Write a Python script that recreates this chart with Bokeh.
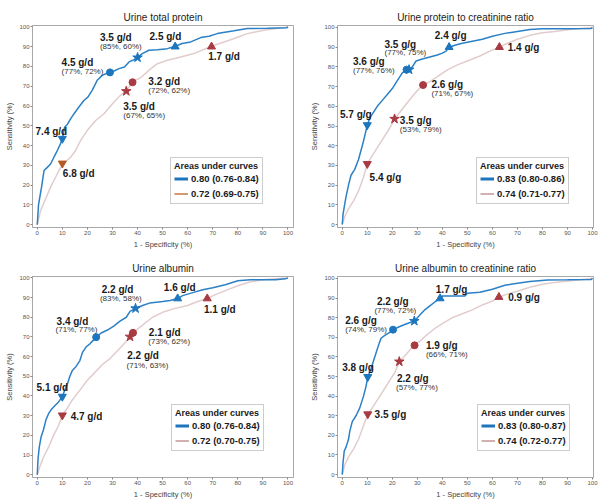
import numpy as np
from bokeh.plotting import figure
from bokeh.layouts import column, row
from bokeh.models import Label, Legend, LegendItem, Range1d, FixedTicker
from bokeh.embed import file_html
from bokeh.resources import INLINE

FONT = "Liberation Sans"
BLUE = "#1c75bd"
BLUE_LINE = "#2b80c6"
RED_MARK = "#a83a42"
RED_LINE = "#e2cccc"
ORANGE = "#b45a22"

TICKS = list(range(0, 101, 10))

# ---------------- Panel 1: Urine total protein ----------------
p1_title = "Urine total protein"
p1_blue_fpr = [0, 0.5, 1.7, 2.7, 4, 5.3, 6.6, 8, 9.3, 10, 10.9, 12, 13.3, 14.6, 16.6, 18.6, 20.2, 21.9, 23.9, 25.9, 28.9, 30.6, 32.6, 34.8, 36.6, 38.6, 40.2, 41.9, 44.5, 47.9, 51.9, 55.1, 57.8, 61.2, 65.2, 68.5, 71.8, 78.5, 83.8, 91.8, 99.5, 100]
p1_blue_tpr = [0, 10, 19, 27.4, 29, 30.7, 34, 37.5, 41, 43.4, 49.3, 50.7, 53.5, 56, 59.5, 62.8, 64.5, 67.9, 73, 75.5, 77.2, 77.7, 78.9, 79.7, 82.3, 83.4, 84.8, 86.5, 88.2, 88.5, 89, 90.2, 91.6, 92.4, 94.6, 95.3, 96.6, 98, 99.2, 99.3, 99.5, 100]
p1_red_fpr = [0, 1.3, 3.3, 5.3, 7.3, 9, 10.6, 13.3, 15.3, 17.3, 19.9, 23.3, 26.6, 30.6, 33.2, 35.4, 38.2, 41.2, 44.5, 47.9, 51.9, 57.2, 62.5, 69.4, 74.5, 78.5, 83.8, 90.4, 100]
p1_red_tpr = [0, 7, 13, 19, 24, 28.2, 31.1, 34.1, 37.5, 42.6, 47.6, 52.7, 56.1, 62, 65.4, 67.6, 72.3, 74.3, 78, 81.4, 83.1, 84.8, 86.5, 90.2, 92.4, 94.1, 96.6, 98.3, 100]
p1_blue_cut_fpr = [10, 29, 40, 55]
p1_blue_cut_tpr = [43.5, 77, 84.5, 90]
p1_blue_cut_names = ["7.4 g/d", "4.5 g/d", "3.5 g/d", "2.5 g/d"]
p1_blue_cut_stats = ["", "(77%, 72%)", "(85%, 60%)", ""]
p1_red_cut_fpr = [10, 38, 35.5, 69.5]
p1_red_cut_tpr = [31, 72, 67.5, 90]
p1_red_cut_names = ["6.8 g/d", "3.2 g/d", "3.5 g/d", "1.7 g/d"]
p1_red_cut_stats = ["", "(72%, 62%)", "(67%, 65%)", ""]
p1_auc = ["0.80 (0.76-0.84)", "0.72 (0.69-0.75)"]

# ---------------- Panel 2: Urine protein to creatinine ratio ----------------
p2_title = "Urine protein to creatinine ratio"
p2_blue_fpr = [0, 0.3, 0.8, 1.5, 2.5, 3.5, 5, 6.5, 8, 9, 10, 11, 12.5, 14, 16, 18, 20, 22, 24, 25.7, 26.7, 28, 29.5, 32, 35, 38, 40, 41.5, 42.7, 45, 48, 52, 56, 60, 65, 70, 75, 80, 90, 99.5, 100]
p2_blue_tpr = [0, 5, 9, 14, 20, 25, 28, 33, 40, 45, 50.5, 54, 57, 60, 63, 66, 69, 73, 77, 78.6, 78.6, 80, 83, 84, 85, 86, 87, 88, 90, 91, 92, 93, 94, 95.5, 97, 98, 99, 99.3, 99.4, 99.5, 100]
p2_red_fpr = [0, 1, 2.5, 4.5, 6.5, 8.5, 10, 12, 14, 16.5, 19, 20.9, 23, 25.5, 28, 30, 32.3, 35, 38, 42, 46, 50, 55, 59, 62.8, 66, 70, 75, 80, 85, 90, 95, 100]
p2_red_tpr = [0, 4, 8, 12, 17, 24, 30.8, 35, 39, 44, 49, 53.6, 57, 61, 65, 68, 70.8, 72.5, 75, 78.5, 81, 83, 85.5, 88, 90, 92, 94, 96, 97.3, 98, 98.8, 99.5, 100]
p2_blue_cut_fpr = [10, 25.7, 26.7, 42.7]
p2_blue_cut_tpr = [50.5, 78.6, 78.6, 90]
p2_blue_cut_names = ["5.7 g/g", "3.6 g/g", "3.5 g/g", "2.4 g/g"]
p2_blue_cut_stats = ["", "(77%, 76%)", "(77%, 75%)", ""]
p2_red_cut_fpr = [10, 32.3, 20.9, 62.8]
p2_red_cut_tpr = [30.8, 70.8, 53.6, 90]
p2_red_cut_names = ["5.4 g/g", "2.6 g/g", "3.5 g/g", "1.4 g/g"]
p2_red_cut_stats = ["", "(71%, 67%)", "(53%, 79%)", ""]
p2_auc = ["0.83 (0.80-0.86)", "0.74 (0.71-0.77)"]

# ---------------- Panel 3: Urine albumin ----------------
p3_title = "Urine albumin"
p3_blue_fpr = [0, 0.3, 0.8, 1.5, 2.5, 3.5, 4.5, 5.5, 7, 8.5, 10, 11, 12, 13, 14, 15.5, 17, 18, 19.5, 21, 22.5, 23.5, 25.5, 28, 30.5, 33, 35.5, 37, 39.2, 42, 45, 50, 53, 56, 58, 62, 66, 70, 75, 80, 85, 95, 99, 100]
p3_blue_tpr = [0, 8, 14, 19, 23, 28, 31, 33, 35, 37, 39.7, 43, 46, 50, 53, 55, 58, 62, 65, 66.5, 68.5, 69.9, 72, 73.5, 75.5, 78, 80, 83, 84.5, 86, 87.3, 88, 88.5, 89.5, 91, 92.5, 94, 95, 96.5, 98.5, 99, 99, 99.5, 100]
p3_red_fpr = [0, 1, 2.5, 4.5, 6.5, 8.5, 10, 12, 14, 17, 20, 23, 26, 29, 32, 35, 37, 38.2, 40, 43, 46, 50, 55, 60, 64, 67.8, 71, 75, 80, 85, 90, 95, 100]
p3_red_tpr = [0, 4, 9, 14, 20, 25, 30.2, 34, 38, 43, 48, 52, 56, 59, 63, 67, 70.1, 72.1, 74, 77, 80, 82.5, 84.5, 86, 88, 89.5, 91.5, 93.5, 96, 98, 99, 99.5, 100]
p3_blue_cut_fpr = [10, 23.5, 39.2, 56]
p3_blue_cut_tpr = [39.7, 69.9, 84.5, 89.5]
p3_blue_cut_names = ["5.1 g/d", "3.4 g/d", "2.2 g/d", "1.6 g/d"]
p3_blue_cut_stats = ["", "(71%, 77%)", "(83%, 58%)", ""]
p3_red_cut_fpr = [10, 38.2, 37, 67.8]
p3_red_cut_tpr = [30.2, 72.1, 70.1, 89.5]
p3_red_cut_names = ["4.7 g/d", "2.1 g/d", "2.2 g/d", "1.1 g/d"]
p3_red_cut_stats = ["", "(73%, 62%)", "(71%, 63%)", ""]
p3_auc = ["0.80 (0.76-0.84)", "0.72 (0.70-0.75)"]

# ---------------- Panel 4: Urine albumin to creatinine ratio ----------------
p4_title = "Urine albumin to creatinine ratio"
p4_blue_fpr = [0, 0.3, 0.8, 1.5, 2.5, 3, 4, 5.5, 7, 8.5, 9.5, 10.2, 11.5, 12.5, 13.5, 14.5, 15.5, 17, 19, 20.3, 23, 26, 28.8, 30, 31.5, 33, 35, 37, 39.1, 40, 45, 49, 50, 55, 60, 65, 70, 75, 82, 90, 99.5, 100]
p4_blue_tpr = [0, 6, 12, 14, 18, 22, 27, 30, 34, 40, 45, 49.8, 54, 58, 62, 66, 69.5, 71, 72.5, 73.9, 75.5, 77, 78.3, 80, 82, 84, 86, 88, 89.8, 91, 91, 91, 92.5, 93, 94.5, 96.5, 97.5, 98.5, 99.2, 99.3, 99.5, 100]
p4_red_fpr = [0, 1, 2.5, 4.5, 6.5, 8.5, 10.2, 12, 14, 16.5, 19, 21, 22.8, 25, 27, 28.9, 31, 34, 37, 40, 44, 48, 52, 56, 60, 62.6, 66, 70, 75, 80, 85, 92, 100]
p4_red_tpr = [0, 5, 9, 13, 18, 25, 30.8, 34, 38, 43, 48, 52, 57.6, 60.5, 63.5, 65.9, 68, 71.5, 74.5, 77, 80, 82, 84, 86.5, 88.5, 90.5, 92, 93.5, 95.5, 97, 98, 99, 100]
p4_blue_cut_fpr = [10.2, 20.3, 28.8, 39.1]
p4_blue_cut_tpr = [49.8, 73.9, 78.3, 89.8]
p4_blue_cut_names = ["3.8 g/g", "2.6 g/g", "2.2 g/g", "1.7 g/g"]
p4_blue_cut_stats = ["", "(74%, 79%)", "(77%, 72%)", ""]
p4_red_cut_fpr = [10.2, 28.9, 22.8, 62.6]
p4_red_cut_tpr = [30.8, 65.9, 57.6, 90.5]
p4_red_cut_names = ["3.5 g/g", "1.9 g/g", "2.2 g/g", "0.9 g/g"]
p4_red_cut_stats = ["", "(66%, 71%)", "(57%, 77%)", ""]
p4_auc = ["0.83 (0.80-0.87)", "0.74 (0.72-0.77)"]

LEGEND_TITLE = "Areas under curves"
X_LABEL = "1 - Specificity (%)"
Y_LABEL = "Sensitivity (%)"

# marker order of the cut points: inverted triangle, circle, star, triangle
MARKERS = ["inverted_triangle", "circle", "star", "triangle"]
MSIZES = [8, 7, 10, 8]

# label pixel offsets from their cut-point markers: (dx, dy, dx_sub, dy_sub)
OFF = {
    1: {"b": [(-26.8, 7.5, 0, 0), (-48.4, 10.0, -48.4, 0.4), (-37.6, 20.5, -37.6, 10.6), (-25.6, 9.7, 0, 0)],
        "r": [(0.5, -10.4, 0, 0), (15.8, 1.0, 15.8, -8.1), (-3.0, -15.2, -3.0, -24.4), (-3.3, -9.7, 0, 0)]},
    2: {"b": [(-27.3, 10.4, 0, 0), (-53.6, 8.5, -53.6, -0.6), (-24.6, 25.2, -24.6, 16.7), (-14.3, 12.0, 0, 0)],
        "r": [(2.3, -14.0, 0, 0), (8.3, 0.4, 8.3, -8.9), (5.3, -1.4, 5.3, -10.8), (8.3, -0.4, 0, 0)]},
    3: {"b": [(-25.8, 9.1, 0, 0), (-39.6, 15.4, -40.6, 7.3), (-33.8, 18.9, -35.6, 9.7), (-13.8, 10.6, 0, 0)],
        "r": [(8.3, -1.2, 0, 0), (15.8, 0.0, 15.3, -8.9), (-2.8, -18.9, -3.5, -28.6), (-3.3, -10.8, 0, 0)]},
    4: {"b": [(-25.6, 9.5, 0, 0), (-47.9, 8.7, -47.9, 0.0), (-37.4, 19.3, -39.9, 10.6), (-4.3, 9.1, 0, 0)],
        "r": [(6.8, -0.6, 0, 0), (11.3, -0.2, 11.3, -8.9), (-2.3, -16.5, -3.3, -25.4), (9.3, 0.0, 0, 0)]},
}


def make_panel(idx, title, bf, bt, rf, rt, bcf, bct, bcn, bcs, rcf, rct, rcn, rcs, auc,
               width, height, mleft, mright, mtop, mbottom, xr, yr, legend_loc,
               red_legend_color, first_red_color):
    p = figure(width=width, height=height, x_range=Range1d(*xr), y_range=Range1d(*yr),
               output_backend="svg", toolbar_location=None,
               min_border_left=mleft, min_border_right=mright,
               min_border_top=mtop, min_border_bottom=mbottom)
    p.title.text = title
    p.title.align = "center"
    p.title.text_font = FONT
    p.title.text_font_size = "10px"
    p.title.text_font_style = "normal"
    p.title.text_color = "#222222"
    p.title.standoff = 5
    p.grid.visible = False
    p.outline_line_color = "#a8a8a8"
    p.outline_line_width = 1
    p.background_fill_color = "white"
    p.border_fill_color = "white"

    for ax, lab in ((p.xaxis[0], X_LABEL), (p.yaxis[0], Y_LABEL)):
        ax.ticker = FixedTicker(ticks=TICKS)
        ax.axis_label = lab
        ax.axis_label_text_font = FONT
        ax.axis_label_text_font_size = "7.5px"
        ax.axis_label_text_font_style = "normal"
        ax.axis_label_text_color = "#444444"
        ax.axis_label_standoff = 2
        ax.major_label_text_font = FONT
        ax.major_label_text_font_size = "6px"
        ax.major_label_text_color = "#555555"
        ax.major_label_standoff = 1
        ax.major_tick_out = 2
        ax.major_tick_in = 0
        ax.minor_tick_out = 0
        ax.minor_tick_in = 0
        ax.axis_line_color = "#a8a8a8"
        ax.major_tick_line_color = "#888888"

    p.line(rf, rt, line_color=RED_LINE, line_width=1.5)
    p.line(bf, bt, line_color=BLUE_LINE, line_width=1.5)

    # cut points
    for j, m in enumerate(MARKERS):
        rc = first_red_color if j == 0 else RED_MARK
        p.scatter([rcf[j]], [rct[j]], marker=m, size=MSIZES[j], color=rc)
        p.scatter([bcf[j]], [bct[j]], marker=m, size=MSIZES[j], color=BLUE)

    for series, xs, ys, names, stats in (("b", bcf, bct, bcn, bcs), ("r", rcf, rct, rcn, rcs)):
        for j in range(len(xs)):
            dx, dy, dx2, dy2 = OFF[idx][series][j]
            p.add_layout(Label(x=xs[j], y=ys[j], x_offset=dx, y_offset=dy, text=names[j],
                               text_font=FONT, text_font_style="bold", text_font_size="10px",
                               text_align="left", text_baseline="middle", text_color="#1a1a1a"))
            if stats[j]:
                p.add_layout(Label(x=xs[j], y=ys[j], x_offset=dx2, y_offset=dy2, text=stats[j],
                                   text_font=FONT, text_font_style="normal", text_font_size="8px",
                                   text_align="left", text_baseline="middle", text_color="#333333"))

    # legend-only renderers (no visible data) so the key lines get their own widths
    lb = p.line([np.nan], [np.nan], line_color=BLUE, line_width=3)
    lr = p.line([np.nan], [np.nan], line_color=red_legend_color, line_width=1.5)
    legend = Legend(items=[LegendItem(label=auc[0], renderers=[lb]),
                           LegendItem(label=auc[1], renderers=[lr])],
                    location=legend_loc, title=LEGEND_TITLE,
                    title_text_font=FONT, title_text_font_style="bold", title_text_font_size="9px",
                    title_text_color="#1a1a1a", title_standoff=1,
                    label_text_font=FONT, label_text_font_style="bold", label_text_font_size="9.5px",
                    label_text_color="#1a1a1a", label_standoff=3, label_height=13,
                    glyph_width=14, glyph_height=13, spacing=2, padding=3, margin=0,
                    border_line_color="#999999", border_line_width=1,
                    background_fill_color="white", background_fill_alpha=1.0)
    p.add_layout(legend)
    return p


p1 = make_panel(1, p1_title, p1_blue_fpr, p1_blue_tpr, p1_red_fpr, p1_red_tpr,
                p1_blue_cut_fpr, p1_blue_cut_tpr, p1_blue_cut_names, p1_blue_cut_stats,
                p1_red_cut_fpr, p1_red_cut_tpr, p1_red_cut_names, p1_red_cut_stats, p1_auc,
                305, 258, 32, 12, 24, 31, (-1.9, 102.2), (-1.4, 100.7), (138, 23),
                "#c8763c", ORANGE)
p2 = make_panel(2, p2_title, p2_blue_fpr, p2_blue_tpr, p2_red_fpr, p2_red_tpr,
                p2_blue_cut_fpr, p2_blue_cut_tpr, p2_blue_cut_names, p2_blue_cut_stats,
                p2_red_cut_fpr, p2_red_cut_tpr, p2_red_cut_names, p2_red_cut_stats, p2_auc,
                300, 258, 32, 12, 25, 31, (-1.9, 100.4), (-1.5, 101.0), (139, 23),
                "#c09696", RED_MARK)
p3 = make_panel(3, p3_title, p3_blue_fpr, p3_blue_tpr, p3_red_fpr, p3_red_tpr,
                p3_blue_cut_fpr, p3_blue_cut_tpr, p3_blue_cut_names, p3_blue_cut_stats,
                p3_red_cut_fpr, p3_red_cut_tpr, p3_red_cut_names, p3_red_cut_stats, p3_auc,
                305, 244, 32, 12, 16, 25, (-1.9, 102.2), (-1.4, 100.7), (139, 26),
                "#c09696", RED_MARK)
p4 = make_panel(4, p4_title, p4_blue_fpr, p4_blue_tpr, p4_red_fpr, p4_red_tpr,
                p4_blue_cut_fpr, p4_blue_cut_tpr, p4_blue_cut_names, p4_blue_cut_stats,
                p4_red_cut_fpr, p4_red_cut_tpr, p4_red_cut_names, p4_red_cut_stats, p4_auc,
                300, 244, 32, 12, 17, 25, (-1.9, 100.4), (-1.5, 101.0), (140, 26),
                "#c09696", RED_MARK)

layout = column(row(p1, p2), row(p3, p4))
open("out.html", "w").write(file_html(layout, INLINE))
